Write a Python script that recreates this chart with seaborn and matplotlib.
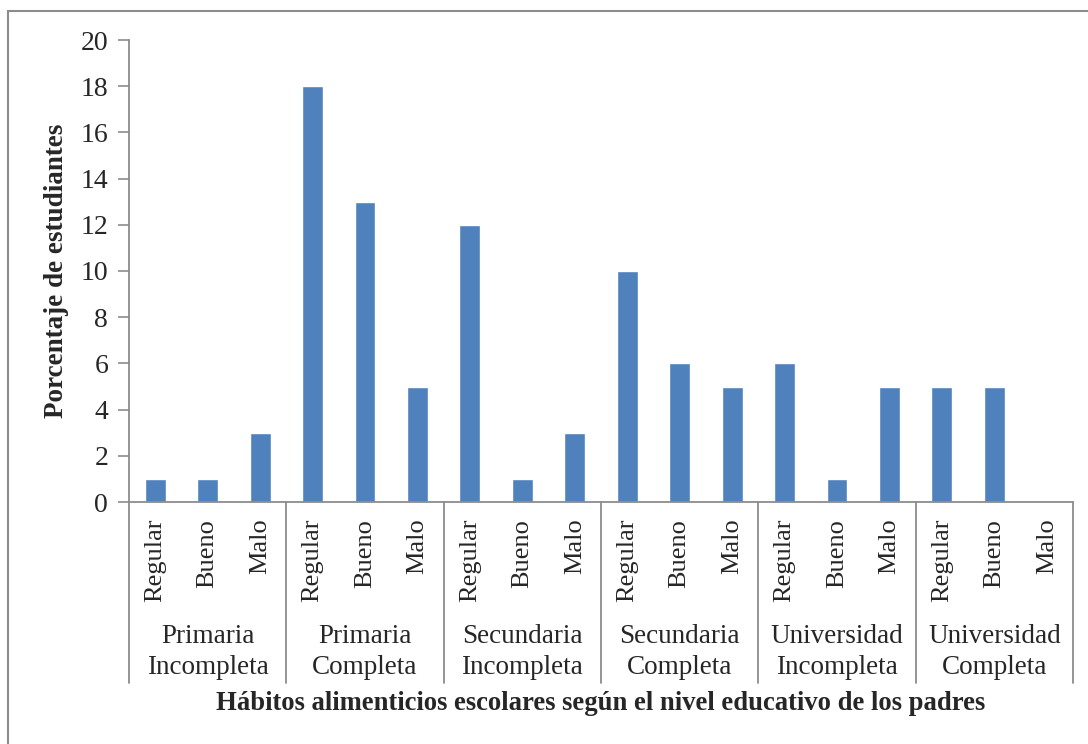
import matplotlib
matplotlib.use("Agg")
import matplotlib.pyplot as plt
import matplotlib.patches as mpatches
import seaborn as sns
import pandas as pd

# Parent education level groups and eating-habit categories
niveles = ["Primaria\nIncompleta", "Primaria\nCompleta", "Secundaria\nIncompleta",
           "Secundaria\nCompleta", "Universidad\nIncompleta", "Universidad\nCompleta"]
habitos = ["Regular", "Bueno", "Malo"]

# Percentage of students per group (Regular, Bueno, Malo)
primaria_incompleta = [1, 1, 3]
primaria_completa = [18, 13, 5]
secundaria_incompleta = [12, 1, 3]
secundaria_completa = [10, 6, 5]
universidad_incompleta = [6, 1, 5]
universidad_completa = [5, 5, 0]

valores = [primaria_incompleta, primaria_completa, secundaria_incompleta,
           secundaria_completa, universidad_incompleta, universidad_completa]

filas = []
for nivel, vals in zip(niveles, valores):
    for h, v in zip(habitos, vals):
        filas.append({"nivel": nivel, "habito": h, "valor": v})
df = pd.DataFrame(filas)
df["pos"] = range(len(df))

sns.set_theme(style="white")
plt.rcParams["font.family"] = ["Liberation Serif", "DejaVu Serif"]

W, H = 1088, 744
fig = plt.figure(figsize=(W / 100, H / 100), dpi=100)
ax = fig.add_axes([129 / W, 1 - 502 / H, (1073 - 129) / W, (502 - 40) / H])

gris = "#8c8c8c"
sns.barplot(data=df, x="pos", y="valor", color="#4F81BD", saturation=1,
            width=0.4, ax=ax, native_scale=True, errorbar=None)

n = len(df)
ax.set_xlim(-0.5, n - 0.5)
ax.set_ylim(0, 20)
ax.set_yticks(range(0, 21, 2))
ax.tick_params(axis="y", direction="out", length=8, width=1.2, color=gris,
               labelsize=20, pad=7, left=True)
ax.set_xticks(df["pos"])
ax.set_xticklabels(df["habito"], rotation=90, fontsize=19, va="top", ha="center")
ax.tick_params(axis="x", length=0, pad=12)

for side in ["top", "right"]:
    ax.spines[side].set_visible(False)
for side in ["left", "bottom"]:
    ax.spines[side].set_color(gris)
    ax.spines[side].set_linewidth(1.3)

ax.set_xlabel("")
ax.set_ylabel("Porcentaje de estudiantes", fontsize=19.5, fontweight="bold", labelpad=8)

# Group separators and group labels below the category labels
trans = ax.get_xaxis_transform()
sep_bottom = (502 - 683) / (502 - 40)
for k in range(len(niveles) + 1):
    xs = -0.5 + 3 * k
    ax.plot([xs, xs], [0, sep_bottom], color=gris, lw=1.3, transform=trans,
            clip_on=False)
label_y = (502 - 652) / (502 - 40)
for k, nivel in enumerate(niveles):
    ax.text(3 * k + 1, label_y, nivel, transform=trans, ha="center", va="center",
            fontsize=19.5, linespacing=1.35)

ax.text(0.5, (502 - 703) / (502 - 40),
        "Hábitos alimenticios escolares según el nivel educativo de los padres",
        transform=ax.transAxes, ha="center", va="center", fontsize=19.2,
        fontweight="bold")

# Outer frame of the chart area
fig.patches.append(mpatches.Rectangle((8 / W, -0.1), 1.2, 1 - 11 / H + 0.1,
                                      transform=fig.transFigure, fill=False,
                                      edgecolor=gris, lw=1.5))

fig.savefig("out.png", dpi=100)
